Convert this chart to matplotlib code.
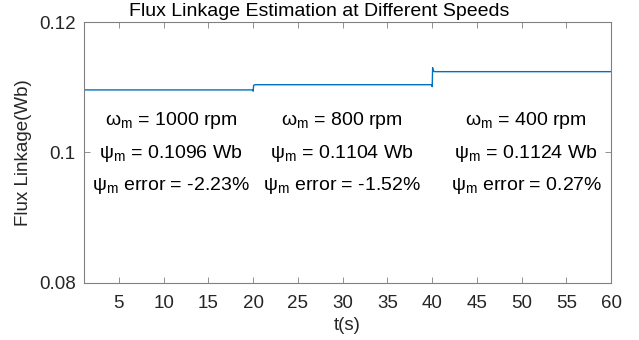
import matplotlib
matplotlib.use("Agg")
import matplotlib.pyplot as plt

plt.rcParams['font.family'] = ['Liberation Sans', 'DejaVu Sans']
plt.rcParams['mathtext.fontset'] = 'custom'
plt.rcParams['mathtext.rm'] = 'Liberation Sans'
plt.rcParams['mathtext.it'] = 'Liberation Sans'

# estimated flux linkage trace (step levels with transients)
t = [1.1, 19.9, 20.0, 20.05, 20.2, 39.9, 40.0, 40.05, 40.1, 40.3, 60]
psi = [0.1096, 0.1096, 0.1094, 0.1103, 0.1104, 0.1104, 0.1101, 0.1130, 0.1125, 0.1124, 0.1124]

speeds = ["1000", "800", "400"]
psi_est = ["0.1096", "0.1104", "0.1124"]
errors = ["-2.23%", "-1.52%", "0.27%"]
text_x = [10.8, 29.9, 50.5]

fig = plt.figure(figsize=(6.39, 3.40), dpi=100)
ax = fig.add_axes([0.1315, 0.168, 0.825, 0.767])

ax.plot(t, psi, color='#0072BD', lw=1.0)

sub = r'$_{\mathrm{m}}$'
for x, s, p, e in zip(text_x, speeds, psi_est, errors):
    ax.text(x, 0.10418, 'ω' + sub + ' = ' + s + ' rpm', ha='center', va='baseline', fontsize=14)
    ax.text(x, 0.09916, 'ψ' + sub + ' = ' + p + ' Wb', ha='center', va='baseline', fontsize=14)
    ax.text(x, 0.09430, 'ψ' + sub + ' error = ' + e, ha='center', va='baseline', fontsize=14)

ax.set_xlim(1.1, 60)
ax.set_ylim(0.08, 0.12)
ax.set_xticks(range(5, 61, 5))
ax.set_yticks([0.08, 0.1, 0.12])
ax.set_yticklabels(['0.08', '0.1', '0.12'])
ax.tick_params(direction='in', top=True, right=True, labelsize=13.5, labelcolor='#262626',
               length=4, width=0.6, color='#808080')
ax.tick_params(axis='x', pad=9)
ax.tick_params(axis='y', pad=6)
for sp in ax.spines.values():
    sp.set_color('#808080')
    sp.set_linewidth(0.8)

ax.set_xlabel('t(s)', fontsize=13.5, color='#262626', labelpad=3)
ax.set_ylabel('Flux Linkage(Wb)', fontsize=13.5, color='#262626', labelpad=5)
fig.text(319 / 639, 1 - 11 / 340, 'Flux Linkage Estimation at Different Speeds',
         ha='center', va='center', fontsize=14)

fig.savefig('out.png', dpi=100)
